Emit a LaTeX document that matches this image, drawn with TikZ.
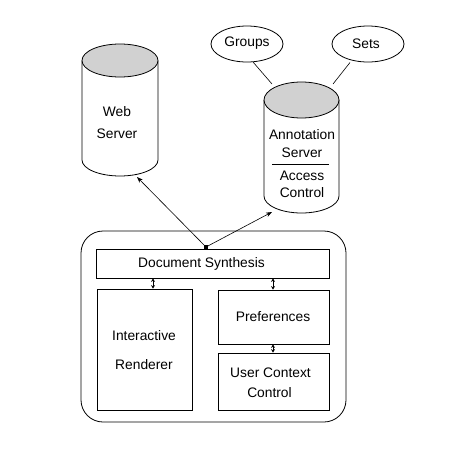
\documentclass[tikz,border=0pt]{standalone}
\usepackage{fontspec}
\setmainfont{Liberation Sans}
\usetikzlibrary{arrows.meta,shapes.geometric}
\begin{document}
\begin{tikzpicture}[x=1pt,y=-1pt,line width=0.8pt,
  lbl/.style={font=\fontsize{13.8}{16}\selectfont, inner sep=0pt},
  box/.style={draw, line width=0.8pt},
  arr/.style={-{Stealth[length=6pt,width=4.5pt]}, line width=0.6pt},
  darr/.style={{Stealth[length=3.5pt,width=4pt]}-{Stealth[length=3.5pt,width=4pt]}, line width=0.7pt},
  topfill/.style={fill=black!18, draw}]
\useasboundingbox (0,0) rectangle (450,450);
% Web server cylinder
\draw (82,60.5) -- (82,160) arc[start angle=180,end angle=0,x radius=38,y radius=16] -- (158,60.5);
\draw[topfill] (120,60.5) ellipse [x radius=38, y radius=16.5];
\coordinate (wsb) at (137,177);
\node[lbl] (web) at (117,112) {Web};
\node[lbl] (webs) at (117,134) {Server};
% Annotation server cylinder
\draw (264,100) -- (264,196) arc[start angle=180,end angle=0,x radius=37.5,y radius=17] -- (339,100);
\draw[topfill] (301.5,100) ellipse [x radius=37.5, y radius=18];
\coordinate (asb) at (272,212);
\coordinate (astl) at (272,84);
\coordinate (astr) at (333,84);
\node[lbl] (ann) at (302,135) {Annotation};
\node[lbl] (anns) at (302,153) {Server};
\draw[line width=0.8pt] (272,164) -- (329,164);
\node[lbl] (acc) at (302,176) {Access};
\node[lbl] (accc) at (302,193) {Control};
% Groups, Sets
\node[draw, ellipse, minimum width=72pt, minimum height=36pt, inner sep=0pt] (groups) at (247,44) {};
\node[lbl] at (247,43) {Groups};
\node[draw, ellipse, minimum width=72pt, minimum height=36pt, inner sep=0pt] (sets) at (368,44) {};
\node[lbl] at (366,44) {Sets};
\coordinate (gs) at (253,62);
\coordinate (ss) at (350,62.5);
\draw[line width=0.6pt] (gs) -- (astl);
\draw[line width=0.6pt] (ss) -- (astr);
% Client container
\draw[rounded corners=22pt] (81,231) rectangle (346,422);
\node[box, minimum width=233pt, minimum height=29pt, inner sep=0pt] (ds) at (212.5,263.5) {};
\node[lbl] at (201.5,264) {Document Synthesis};
\node[box, minimum width=95pt, minimum height=121pt, inner sep=0pt] (ir) at (144.5,349.5) {};
\node[lbl] at (144,336) {Interactive};
\node[lbl] at (144,365) {Renderer};
\node[box, minimum width=111pt, minimum height=54pt, inner sep=0pt] (pref) at (273.5,317) {};
\node[lbl] at (273,317) {Preferences};
\node[box, minimum width=111pt, minimum height=57pt, inner sep=0pt] (ucc) at (273.5,381.5) {};
\node[lbl] at (270.5,373) {User Context};
\node[lbl] at (269.5,393) {Control};
% junction square
\node[fill=black, minimum size=4.5pt, inner sep=0pt] (sq) at (206,247) {};
\draw[arr] (sq.center) -- (wsb);
\draw[arr] (sq.center) -- (asb);
% double arrows
\coordinate (xa) at (153,0);
\coordinate (xb) at (273,0);
\draw[darr] (ds.south -| xa) -- (ir.north -| xa);
\draw[darr] (ds.south -| xb) -- (pref.north -| xb);
\draw[darr] (pref.south -| xb) -- (ucc.north -| xb);
\end{tikzpicture}
\end{document}
